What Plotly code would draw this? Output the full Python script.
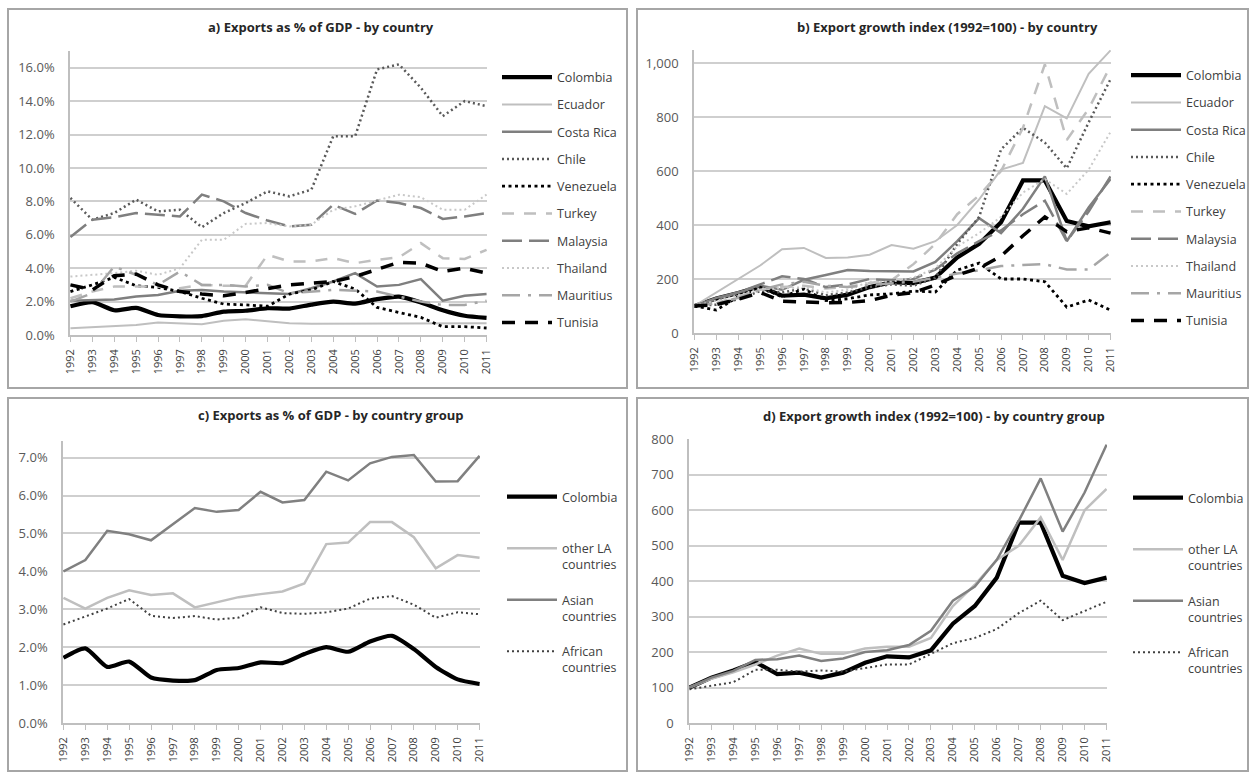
import plotly.graph_objects as go

years = list(range(1992, 2012))
year_labels = [str(y) for y in years]

# ---- Panel a: exports as % of GDP, by country ----
colombia_share = [1.72, 1.97, 1.48, 1.62, 1.20, 1.12, 1.13, 1.40, 1.45, 1.60, 1.58, 1.82, 2.00, 1.88, 2.15, 2.30, 1.95, 1.48, 1.15, 1.03]
ecuador_share = [0.40, 0.48, 0.52, 0.60, 0.75, 0.70, 0.65, 0.85, 0.95, 0.82, 0.70, 0.68, 0.68, 0.70, 0.70, 0.72, 0.72, 0.70, 0.70, 0.70]
costa_rica_share = [2.05, 2.08, 2.12, 2.30, 2.40, 2.65, 2.70, 2.60, 2.55, 2.50, 2.45, 2.80, 3.20, 3.70, 2.90, 3.00, 3.35, 2.05, 2.35, 2.45]
chile_share = [8.2, 6.9, 7.3, 8.1, 7.4, 7.5, 6.45, 7.3, 7.9, 8.6, 8.3, 8.7, 11.9, 11.9, 15.9, 16.2, 14.8, 13.1, 14.0, 13.7]
venezuela_share = [2.60, 3.00, 3.45, 2.95, 2.85, 2.60, 2.20, 1.85, 1.80, 1.72, 2.45, 2.70, 3.20, 2.75, 1.65, 1.35, 1.05, 0.50, 0.50, 0.42]
turkey_share = [2.2, 2.6, 2.9, 2.9, 2.9, 2.8, 3.0, 2.95, 2.95, 4.8, 4.4, 4.4, 4.6, 4.3, 4.5, 4.65, 5.5, 4.6, 4.55, 5.1]
malaysia_share = [5.87, 6.9, 7.05, 7.3, 7.2, 7.1, 8.4, 8.0, 7.3, 6.85, 6.5, 6.6, 7.8, 7.25, 8.05, 7.9, 7.6, 6.95, 7.1, 7.3]
thailand_share = [3.5, 3.6, 3.7, 3.85, 3.6, 4.0, 5.7, 5.7, 6.65, 6.7, 6.5, 6.6, 7.5, 7.7, 8.05, 8.4, 8.25, 7.5, 7.5, 8.4]
mauritius_share = [2.0, 2.5, 4.1, 3.6, 3.0, 3.8, 3.0, 3.0, 2.9, 3.0, 2.5, 2.6, 2.7, 2.65, 2.6, 2.3, 2.0, 1.8, 1.8, 2.05]
tunisia_share = [3.0, 2.7, 3.55, 3.65, 3.0, 2.6, 2.45, 2.35, 2.55, 2.8, 3.0, 3.1, 3.2, 3.5, 3.95, 4.35, 4.3, 3.8, 4.0, 3.7]

# ---- Panel b: export growth index (1992=100), by country ----
colombia_index = [100, 128, 148, 172, 138, 142, 128, 142, 170, 188, 185, 205, 280, 330, 410, 565, 565, 415, 395, 410]
ecuador_index = [100, 150, 200, 250, 310, 315, 278, 280, 290, 326, 312, 340, 400, 495, 605, 630, 840, 795, 960, 1047]
costa_rica_index = [100, 130, 150, 175, 160, 197, 215, 233, 230, 230, 228, 263, 340, 425, 370, 460, 580, 340, 465, 570]
chile_index = [100, 105, 125, 155, 150, 165, 140, 150, 170, 180, 175, 205, 330, 430, 680, 760, 705, 610, 780, 940]
venezuela_index = [100, 85, 134, 170, 134, 163, 120, 127, 141, 145, 155, 152, 233, 259, 200, 200, 190, 96, 122, 85]
turkey_index = [100, 110, 135, 160, 170, 175, 165, 170, 185, 195, 255, 330, 440, 510, 600, 760, 995, 715, 830, 990]
malaysia_index = [100, 125, 150, 180, 210, 200, 170, 180, 200, 195, 200, 235, 295, 340, 380, 440, 490, 340, 450, 580]
thailand_index = [100, 120, 140, 165, 165, 170, 150, 160, 190, 190, 205, 240, 320, 370, 430, 520, 570, 515, 605, 745]
mauritius_index = [100, 110, 130, 160, 180, 190, 175, 170, 178, 183, 190, 205, 220, 232, 248, 252, 255, 235, 235, 298]
tunisia_index = [100, 105, 125, 150, 118, 115, 112, 113, 120, 140, 150, 178, 215, 240, 285, 360, 430, 375, 390, 370]

# ---- Panel c: exports as % of GDP, by country group ----
other_la_share = [3.30, 3.02, 3.30, 3.50, 3.38, 3.42, 3.05, 3.18, 3.32, 3.40, 3.47, 3.68, 4.72, 4.76, 5.30, 5.30, 4.90, 4.08, 4.43, 4.36]
asian_share = [4.00, 4.30, 5.07, 4.98, 4.82, 5.25, 5.67, 5.57, 5.62, 6.10, 5.82, 5.88, 6.63, 6.40, 6.85, 7.02, 7.07, 6.37, 6.38, 7.05]
african_share = [2.60, 2.80, 3.02, 3.27, 2.83, 2.77, 2.82, 2.73, 2.78, 3.05, 2.90, 2.88, 2.92, 3.02, 3.28, 3.35, 3.12, 2.78, 2.92, 2.87]

# ---- Panel d: export growth index (1992=100), by country group ----
other_la_index = [100, 125, 143, 165, 190, 210, 195, 195, 210, 215, 215, 240, 330, 390, 460, 500, 580, 460, 600, 660]
asian_index = [100, 128, 147, 178, 180, 190, 175, 182, 200, 205, 220, 260, 345, 385, 460, 570, 690, 540, 650, 785]
african_index = [95, 105, 115, 150, 150, 145, 148, 145, 155, 165, 165, 195, 225, 240, 265, 310, 345, 290, 315, 342]

country_names = ["Colombia", "Ecuador", "Costa Rica", "Chile", "Venezuela",
                 "Turkey", "Malaysia", "Thailand", "Mauritius", "Tunisia"]
group_names = ["Colombia", "other LA<br>countries", "Asian<br>countries", "African<br>countries"]

titles = ["a) Exports as % of GDP - by country",
          "b) Export growth index (1992=100) - by country",
          "c) Exports as % of GDP - by country group",
          "d) Export growth index (1992=100) - by country group"]

# styles (colour, width, dash)
country_styles = [
    dict(color="#000000", width=4.2, dash="solid"),
    dict(color="#bfbfbf", width=2, dash="solid"),
    dict(color="#7f7f7f", width=2.5, dash="solid"),
    dict(color="#595959", width=2.5, dash="2px,3px"),
    dict(color="#000000", width=2.8, dash="3px,3.5px"),
    dict(color="#bfbfbf", width=2.5, dash="12px,10px"),
    dict(color="#7f7f7f", width=2.5, dash="20px,7px"),
    dict(color="#c8c8c8", width=2, dash="2px,3px"),
    dict(color="#a6a6a6", width=2.5, dash="18px,8px,3px,8px"),
    dict(color="#000000", width=3.5, dash="13px,10px"),
]
group_styles = [
    dict(color="#000000", width=4.2, dash="solid"),
    dict(color="#bfbfbf", width=2.5, dash="solid"),
    dict(color="#808080", width=2.5, dash="solid"),
    dict(color="#404040", width=2, dash="2px,3px"),
]

panel_a = [colombia_share, ecuador_share, costa_rica_share, chile_share, venezuela_share,
           turkey_share, malaysia_share, thailand_share, mauritius_share, tunisia_share]
panel_b = [colombia_index, ecuador_index, costa_rica_index, chile_index, venezuela_index,
           turkey_index, malaysia_index, thailand_index, mauritius_index, tunisia_index]
panel_c = [colombia_share, other_la_share, asian_share, african_share]
panel_d = [colombia_index, other_la_index, asian_index, african_index]

W, H = 1251, 772
FONT = "Open Sans"

fig = go.Figure()

def add_panel(series, names, styles, xa, ya, legend, tag, spline_first=False, label_fix=False):
    for i, (vals, nm, st) in enumerate(zip(series, names, styles)):
        label = nm
        if label_fix and "<br>" not in nm:
            label = nm + "<br>\u00a0"
        shape = "spline" if (spline_first and i == 0) else "linear"
        fig.add_trace(go.Scatter(
            x=years, y=vals, name=label, mode="lines",
            line=dict(color=st["color"], width=st["width"], dash=st["dash"], shape=shape, smoothing=0.6),
            xaxis=xa, yaxis=ya, legend=legend, legendgroup=tag + str(i),
            hoverinfo="skip",
        ))

add_panel(panel_a, country_names, country_styles, "x", "y", "legend", "a", spline_first=True)
add_panel(panel_b, country_names, country_styles, "x2", "y2", "legend2", "b")
add_panel(panel_c, group_names, group_styles, "x3", "y3", "legend3", "c", spline_first=True, label_fix=True)
add_panel(panel_d, group_names, group_styles, "x4", "y4", "legend4", "d", label_fix=True)

def px_x(v):
    return v / W

def px_y(v):
    return 1 - v / H

grid_col = "#cfcfcf"
axis_col = "#bfbfbf"
tick_font = dict(family=FONT, size=13, color="#595959")

def xaxis(x0, x1, anchor):
    return dict(domain=[px_x(x0), px_x(x1)], anchor=anchor, range=[1991.98, 2011.02],
                tickmode="array", tickvals=years, ticktext=year_labels, tickangle=-90,
                tickfont=dict(family=FONT, size=11, color="#404040"), ticklabelstandoff=3,
                showgrid=False, zeroline=False, showline=True, linecolor=axis_col, linewidth=1.5,
                ticks="outside", ticklen=5, tickcolor=axis_col, tickwidth=1.2, fixedrange=True)

def yaxis(y0, y1, anchor, rng, dtick, fmt, suffix=""):
    return dict(domain=[px_y(y0), px_y(y1)], anchor=anchor, range=rng, dtick=dtick, tick0=0,
                tickformat=fmt, ticksuffix=suffix, tickfont=tick_font, ticklabelstandoff=11,
                showgrid=True, gridcolor=grid_col, gridwidth=1.6, zeroline=False,
                showline=True, linecolor=axis_col, linewidth=1.5, ticks="", fixedrange=True)

layout = dict(
    width=W, height=H, margin=dict(l=0, r=0, t=0, b=0, autoexpand=False),
    paper_bgcolor="white", plot_bgcolor="white",
    font=dict(family=FONT, color="#404040"),
    xaxis=xaxis(70, 487, "y"),
    yaxis=yaxis(335, 51, "x", [0, 17], 2, ".1f", "%"),
    xaxis2=xaxis(694, 1111, "y2"),
    yaxis2=yaxis(333, 49.5, "x2", [0, 1050], 200, ","),
    xaxis3=xaxis(63, 480, "y3"),
    yaxis3=yaxis(723, 440.6, "x3", [0, 7.45], 1, ".1f", "%"),
    xaxis4=xaxis(689, 1107, "y4"),
    yaxis4=yaxis(723, 439, "x4", [0, 801], 100, "d"),
)

leg_font = dict(family=FONT, size=12.5, color="#404040")
def legend(x, ytop, gap):
    return dict(x=px_x(x), y=px_y(ytop), xanchor="left", yanchor="top", xref="paper", yref="paper",
                font=leg_font, bgcolor="rgba(0,0,0,0)", borderwidth=0, itemwidth=50,
                tracegroupgap=gap, valign="top", itemclick=False, itemdoubleclick=False)

layout["legend"] = legend(497, 62.5, 8.0)
layout["legend2"] = legend(1126, 60.5, 8.0)
layout["legend3"] = legend(502, 482, 16.0)
layout["legend4"] = legend(1128, 483, 16.0)

fig.update_layout(**layout)

# panel frames
frames = [(8, 9, 627, 388), (637, 9, 1248, 388), (8, 398, 627, 771), (637, 398, 1248, 771)]
for (x0, y0, x1, y1) in frames:
    fig.add_shape(type="rect", xref="paper", yref="paper",
                  x0=px_x(x0), x1=px_x(x1), y0=px_y(y0), y1=px_y(y1),
                  line=dict(color="#a6a6a6", width=2), fillcolor="rgba(0,0,0,0)", layer="below")

title_pos = [(321, 27), (947, 27), (331, 415), (934, 416)]
for t, (tx, ty) in zip(titles, title_pos):
    fig.add_annotation(text="<b>" + t + "</b>", x=px_x(tx), y=px_y(ty), xref="paper", yref="paper",
                       xanchor="center", yanchor="middle", showarrow=False,
                       font=dict(family=FONT, size=13, color="#262626"))

fig.write_html("out.html")
